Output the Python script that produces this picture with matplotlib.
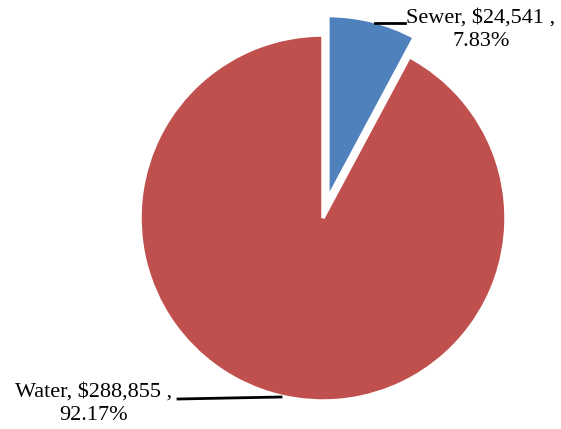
import matplotlib.pyplot as plt

labels = ['Sewer', 'Water']
values = [24541, 288855]
colors = ['#4F81BD', '#C0504D']

W, H = 561, 429
fig = plt.figure(figsize=(W / 100, H / 100), dpi=100)
ax = fig.add_axes([0, 0, 1, 1])

total = sum(values)
# explode is in data units here (pixels), not a fraction of the radius
ax.pie(values, colors=colors, explode=[20, 0], startangle=90, counterclock=False,
       center=(323, H - 218), radius=183, frame=True,
       wedgeprops=dict(edgecolor='white', linewidth=2.5))
ax.set_xlim(0, W)
ax.set_ylim(0, H)
ax.set_aspect('equal')
ax.axis('off')

texts = [f'{lab}, ${v:,.0f} ,\n{v / total * 100:.2f}%' for lab, v in zip(labels, values)]
font = dict(family='Liberation Serif', fontsize=16, ha='center', va='center', linespacing=1.3)

# sewer label, top right
ax.plot([375, 405], [H - 23, H - 23], color='black', lw=2)
ax.text(481, H - 30, texts[0], **font)

# water label, bottom left
ax.plot([178, 281], [H - 399, H - 397], color='black', lw=2)
ax.text(94, H - 404, texts[1], **font)

fig.savefig('out.png', dpi=100)
